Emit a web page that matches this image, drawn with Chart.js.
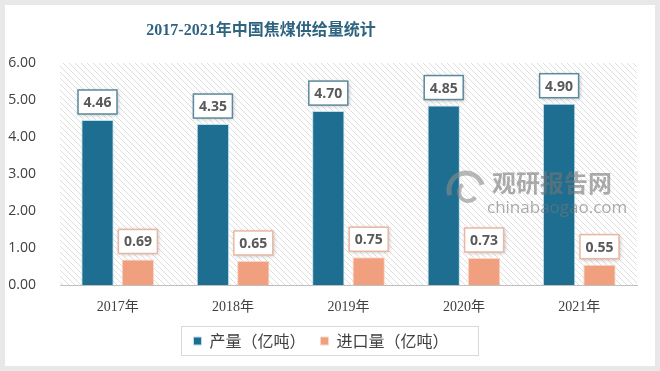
<!DOCTYPE html>
<html>
<head>
<meta charset="utf-8">
<script src="https://cdn.jsdelivr.net/npm/chart.js@4.4.0/dist/chart.umd.min.js"></script>
<style>
  html, body { margin: 0; padding: 0; background: #e8e8e8; }
  #wrap { width: 660px; height: 371px; position: relative; }
</style>
</head>
<body>
<div id="wrap"><canvas id="myChart" width="660" height="371"></canvas></div>
<script>
var years = ['2017年', '2018年', '2019年', '2020年', '2021年'];
var output = [4.46, 4.35, 4.70, 4.85, 4.90];
var imports = [0.69, 0.65, 0.75, 0.73, 0.55];
var yTicks = [0, 1, 2, 3, 4, 5, 6];

var cjk = "'Noto Sans CJK SC', 'Noto Sans', sans-serif";

// hatch fill for the plot area
var hatch = document.createElement('canvas');
hatch.width = 6; hatch.height = 6;
var hc = hatch.getContext('2d');
hc.fillStyle = '#ffffff';
hc.fillRect(0, 0, 6, 6);
hc.strokeStyle = '#dedede';
hc.lineWidth = 1;
hc.beginPath();
hc.moveTo(0, 0); hc.lineTo(6, 6);
hc.moveTo(-3, 3); hc.lineTo(3, 9);
hc.moveTo(3, -3); hc.lineTo(9, 3);
hc.stroke();

var backdrop = {
    id: 'backdrop',
    beforeDraw: function(chart) {
        var c = chart.ctx, a = chart.chartArea;
        c.save();
        c.fillStyle = '#e8e8e8';
        c.fillRect(0, 0, chart.width, chart.height);
        c.fillStyle = '#ffffff';
        c.fillRect(5, 5, 650, 361);
        c.fillStyle = c.createPattern(hatch, 'repeat');
        c.fillRect(a.left, a.top, a.right - a.left, a.bottom - a.top);
        // title
        c.fillStyle = '#2f6481';
        c.font = "bold 16px 'Liberation Serif', " + cjk;
        c.textAlign = 'center';
        c.textBaseline = 'middle';
        c.fillText('2017-2021年中国焦煤供给量统计', 261, 31);
        c.restore();
    },
    afterDraw: function(chart) {
        var c = chart.ctx;
        c.save();
        c.strokeStyle = '#d9d9d9';
        c.lineWidth = 1;
        c.strokeRect(181.5, 326.5, 297, 29);
        c.restore();
    }
};

var valueBoxes = {
    id: 'valueBoxes',
    afterDatasetsDraw: function(chart) {
        var c = chart.ctx;
        var borders = ['#5b8a9c', '#e9b8a4'];
        chart.data.datasets.forEach(function(ds, i) {
            chart.getDatasetMeta(i).data.forEach(function(bar, j) {
                var w = 39, h = 24;
                var x = bar.x - w / 2, y = bar.y - 6 - h;
                c.save();
                c.shadowColor = 'rgba(0,0,0,0.25)';
                c.shadowBlur = 4;
                c.shadowOffsetX = 1;
                c.shadowOffsetY = 1;
                c.fillStyle = '#ffffff';
                c.fillRect(x, y, w, h);
                c.restore();
                c.save();
                c.strokeStyle = borders[i];
                c.lineWidth = 1.5;
                c.strokeRect(x, y, w, h);
                c.fillStyle = '#595959';
                c.font = "bold 14px 'Open Sans', 'Liberation Sans', sans-serif";
                c.textAlign = 'center';
                c.textBaseline = 'middle';
                c.fillText(ds.data[j].toFixed(2), bar.x, y + h / 2 + 1);
                c.restore();
            });
        });
        // watermark
        c.save();
        c.globalAlpha = 0.6;
        c.fillStyle = '#747474';
        c.strokeStyle = '#8a8a8a';
        c.lineWidth = 5;
        c.beginPath();
        c.arc(466, 190, 17, Math.PI * 0.9, Math.PI * 1.9);
        c.stroke();
        c.beginPath();
        c.lineWidth = 4;
        c.arc(468, 192, 9, Math.PI * 0.2, Math.PI * 1.3);
        c.stroke();
        c.font = "bold 24px " + cjk;
        c.textAlign = 'left';
        c.textBaseline = 'middle';
        c.fillText('观研报告网', 492, 183);
        c.font = "17px 'Open Sans', 'Liberation Sans', sans-serif";
        c.fillText('chinabaogao.com', 487, 208);
        c.restore();
    }
};

var ctx = document.getElementById('myChart').getContext('2d');
var myChart = new Chart(ctx, {
    type: 'bar',
    data: {
        labels: years,
        datasets: [{
            label: '产量（亿吨）',
            data: output,
            backgroundColor: '#1e6e91',
            borderColor: '#b9e0ec',
            borderWidth: 1,
            categoryPercentage: 0.7,
            barPercentage: 0.8
        }, {
            label: '进口量（亿吨）',
            data: imports,
            backgroundColor: '#f0a07f',
            borderColor: '#f9d6c6',
            borderWidth: 1,
            categoryPercentage: 0.7,
            barPercentage: 0.8
        }]
    },
    options: {
        responsive: false,
        animation: false,
        layout: { padding: { left: 5, right: 23, top: 63, bottom: 12 } },
        plugins: {
            title: { display: false },
            tooltip: { enabled: false },
            legend: {
                position: 'bottom',
                labels: {
                    boxWidth: 8,
                    boxHeight: 8,
                    padding: 15,
                    color: '#404040',
                    font: { size: 16, family: cjk }
                }
            }
        },
        scales: {
            x: {
                afterFit: function(s) { s.height = 33; },
                grid: { display: false },
                border: { display: true, color: '#bfbfbf' },
                ticks: {
                    padding: 6,
                    color: '#404040',
                    font: { size: 14, family: "'Liberation Serif', " + cjk }
                }
            },
            y: {
                min: 0,
                max: 6,
                afterFit: function(s) { s.width = 55; },
                afterBuildTicks: function(s) {
                    s.ticks = yTicks.map(function(v) { return { value: v }; });
                },
                grid: { display: false },
                border: { display: false },
                ticks: {
                    padding: 16,
                    color: '#404040',
                    font: { size: 14, family: "'Open Sans', 'Liberation Sans', sans-serif" },
                    callback: function(v) { return v.toFixed(2); }
                }
            }
        }
    },
    plugins: [backdrop, valueBoxes]
});
</script>
</body>
</html>
